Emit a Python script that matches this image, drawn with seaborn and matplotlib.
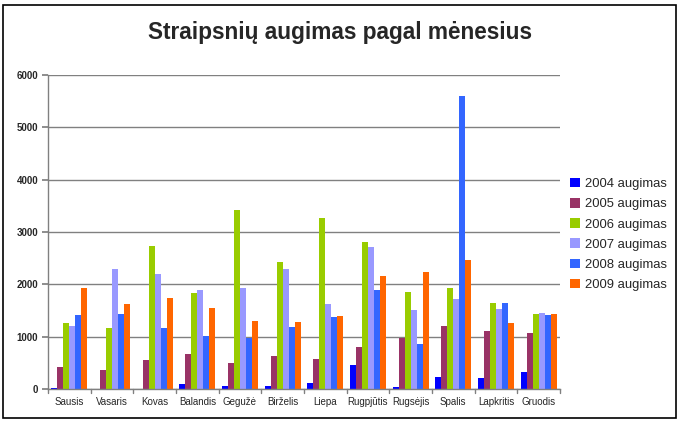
import pandas as pd
import matplotlib.pyplot as plt
import seaborn as sns
from matplotlib.patches import Rectangle

sns.set_theme(style="white")
plt.rcParams['font.family'] = ['Liberation Sans', 'DejaVu Sans']

# Data
months = ['Sausis', 'Vasaris', 'Kovas', 'Balandis', 'Gegužė', 'Birželis',
          'Liepa', 'Rugpjūtis', 'Rugsėjis', 'Spalis', 'Lapkritis', 'Gruodis']
series = ['2004 augimas', '2005 augimas', '2006 augimas',
          '2007 augimas', '2008 augimas', '2009 augimas']
v2004 = [25, 0, 0, 102, 64, 64, 121, 464, 45, 235, 216, 331]
v2005 = [426, 369, 560, 674, 503, 636, 579, 808, 980, 1209, 1113, 1075]
v2006 = [1266, 1170, 2735, 1838, 3422, 2430, 3270, 2812, 1857, 1934, 1648, 1438]
v2007 = [1200, 2296, 2201, 1896, 1934, 2296, 1628, 2716, 1514, 1724, 1533, 1457]
v2008 = [1419, 1438, 1170, 1011, 980, 1190, 1380, 1896, 865, 5598, 1648, 1419]
v2009 = [1934, 1628, 1743, 1552, 1304, 1285, 1400, 2163, 2239, 2468, 1266, 1438]
colors = ['#0000FF', '#993366', '#99CC00', '#9999FF', '#3366FF', '#FF6600']

rows = []
for name, vals in zip(series, [v2004, v2005, v2006, v2007, v2008, v2009]):
    for m, v in zip(months, vals):
        rows.append({'month': m, 'series': name, 'value': v})
df = pd.DataFrame(rows)

fig = plt.figure(figsize=(6.79, 4.22), dpi=100)
ax = fig.add_axes([0.0707, 0.0782, 0.754, 0.744])

sns.barplot(data=df, x='month', y='value', hue='series', palette=colors,
            width=0.84, gap=0, saturation=1, ax=ax, order=months, hue_order=series,
            edgecolor='none', linewidth=0)

ax.set_ylim(0, 6000)
ax.set_xlim(-0.5, 11.5)
ax.set_yticks(range(0, 6001, 1000))
ax.set_yticklabels([str(t) for t in range(0, 6001, 1000)], fontsize=7, fontweight='bold')
ax.set_xticks(range(12))
ax.set_xticklabels(months, fontsize=7)
ax.tick_params(axis='x', length=0, pad=6)
ax.tick_params(axis='y', length=4, pad=3, color='#808080', direction='out', left=True)
# tick marks between categories
for b in [i + 0.5 for i in range(-1, 12)]:
    ax.plot([b, b], [0, -70], color='#808080', lw=1, clip_on=False)
ax.set_xlabel('')
ax.set_ylabel('')
ax.yaxis.grid(True, color='#808080', lw=1)
ax.set_axisbelow(True)
for s in ['top', 'right']:
    ax.spines[s].set_visible(False)
for s in ['left', 'bottom']:
    ax.spines[s].set_color('#808080')
    ax.spines[s].set_linewidth(1)

fig.text(0.5, 0.922, 'Straipsnių augimas pagal mėnesius', ha='center', va='center',
         fontsize=16.3, fontweight='bold')

leg = ax.legend(loc='upper left', bbox_to_anchor=(0.997, 0.71), frameon=False,
                fontsize=9.4, handlelength=0.75, handleheight=0.75, handletextpad=0.4,
                labelspacing=0.6, borderaxespad=0.5)

fig.patches.append(Rectangle((3 / 679, 4 / 422), 673 / 679, 413 / 422, transform=fig.transFigure,
                             fill=False, edgecolor='black', lw=1.2))

fig.savefig('out.png', dpi=100)
